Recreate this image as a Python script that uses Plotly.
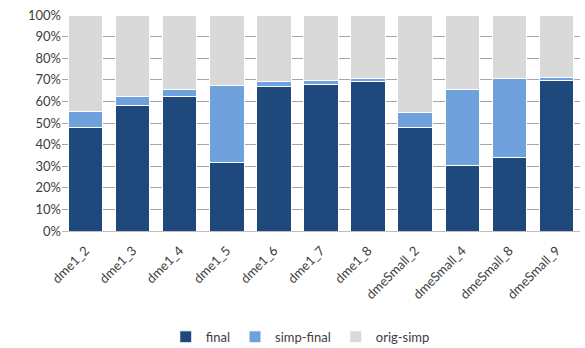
import plotly.graph_objects as go

categories = ["dme1_2", "dme1_3", "dme1_4", "dme1_5", "dme1_6", "dme1_7", "dme1_8",
              "dmeSmall_2", "dmeSmall_4", "dmeSmall_8", "dmeSmall_9"]
final = [48.0, 57.9, 62.2, 31.8, 66.8, 67.7, 69.0, 48.0, 30.4, 33.8, 69.8]
simp_final = [7.2, 4.3, 3.4, 35.6, 2.2, 1.9, 1.4, 6.8, 35.2, 36.7, 1.2]
orig_simp = [round(100 - a - b, 1) for a, b in zip(final, simp_final)]

series = [("final", final, "#1F497D"),
          ("simp-final", simp_final, "#6FA1DC"),
          ("orig-simp", orig_simp, "#D9D9D9")]

fig = go.Figure()
for name, vals, color in series:
    fig.add_trace(go.Bar(x=categories, y=vals, name=name,
                         marker=dict(color=color, line=dict(color="white", width=1))))

font = dict(family="Lato, Liberation Sans, sans-serif", size=12, color="#595959")
fig.update_layout(
    barmode="stack",
    bargap=0.27,
    width=585, height=348,
    margin=dict(l=62, r=5, t=15, b=117, autoexpand=False),
    plot_bgcolor="white", paper_bgcolor="white",
    font=font,
    showlegend=True,
    legend=dict(orientation="h", x=0.46, xanchor="center", y=-0.49, yanchor="middle",
                font=dict(family="Lato, Liberation Sans, sans-serif", size=13, color="#404040"),
                itemwidth=30, traceorder="normal"),
    xaxis=dict(tickangle=-45, showline=True, linecolor="#BFBFBF", ticks="",
               automargin=False, ticklabelstandoff=6,
               tickfont=dict(size=13, color="#404040")),
    yaxis=dict(range=[0, 100], dtick=10, ticksuffix="%", showgrid=True,
               gridcolor="#A6A6A6", gridwidth=1, zeroline=False, automargin=False,
               tickfont=dict(size=13, color="#404040")),
)
fig.write_html("out.html")
